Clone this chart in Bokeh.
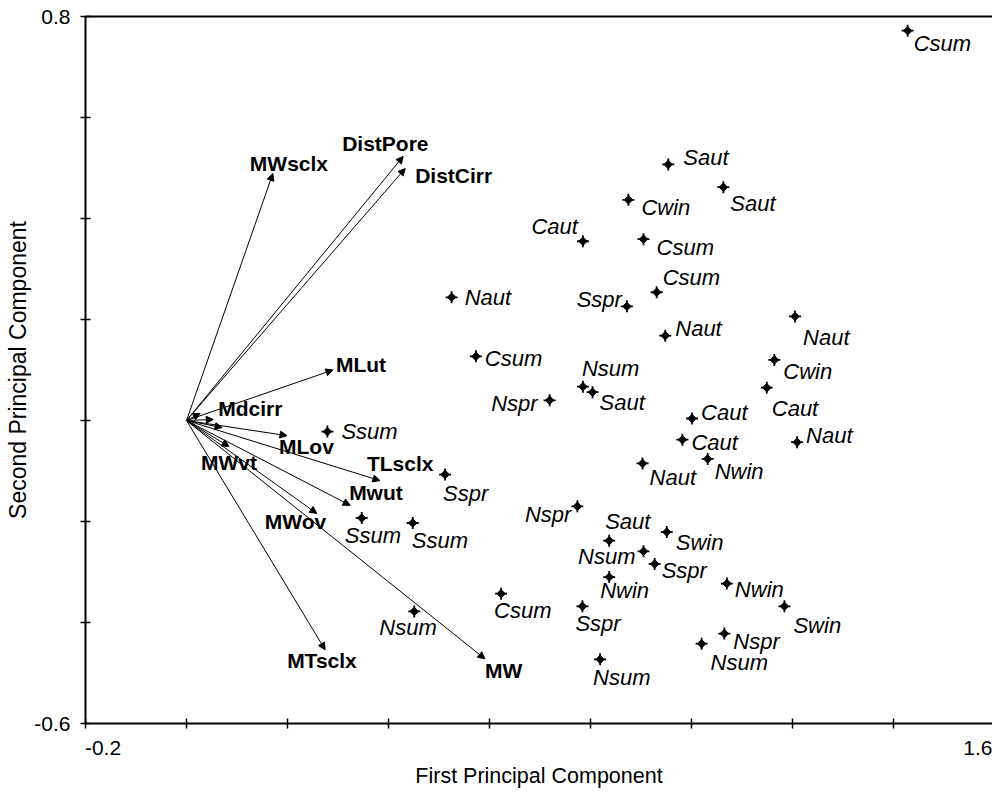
from bokeh.plotting import figure
from bokeh.models import (ColumnDataSource, Arrow, NormalHead, FixedTicker, LinearAxis,
                          CustomJSTickFormatter, Range1d)
from bokeh.core.properties import value
from bokeh.embed import file_html
from bokeh.resources import INLINE

# ---------------- data ----------------
# observation scores (first, second principal component)
obs_labels = ["Csum", "Saut", "Saut", "Cwin", "Caut", "Csum", "Csum", "Sspr", "Naut", "Naut",
              "Naut", "Csum", "Nsum", "Saut", "Nspr", "Cwin", "Caut", "Caut", "Caut", "Nwin",
              "Naut", "Naut", "Nspr", "Saut", "Swin", "Nsum", "Sspr", "Nwin", "Nwin", "Swin",
              "Csum", "Sspr", "Nspr", "Nsum", "Nsum", "Ssum", "Sspr", "Ssum", "Ssum", "Nsum"]
pc1 = [1.428, 0.954, 1.063, 0.875, 0.785, 0.905, 0.931, 0.872, 0.525, 0.948,
       1.205, 0.573, 0.785, 0.804, 0.719, 1.164, 1.149, 1.001, 0.982, 1.032,
       1.209, 0.903, 0.774, 0.837, 0.951, 0.905, 0.927, 0.837, 1.070, 1.184,
       0.623, 0.784, 1.065, 1.020, 0.819, 0.279, 0.512, 0.347, 0.448, 0.451]
pc2 = [0.772, 0.507, 0.462, 0.437, 0.355, 0.359, 0.254, 0.226, 0.244, 0.168,
       0.206, 0.127, 0.067, 0.056, 0.040, 0.120, 0.065, 0.004, -0.038, -0.076,
       -0.043, -0.085, -0.170, -0.238, -0.221, -0.259, -0.284, -0.310, -0.323, -0.368,
       -0.343, -0.368, -0.422, -0.442, -0.473, -0.022, -0.107, -0.193, -0.203, -0.378]

# variable loadings (arrows from the origin)
var_names = ["MWsclx", "DistPore", "DistCirr", "MLut", "Mdcirr", "", "", "MLov", "MWvt",
             "TLsclx", "Mwut", "MWov", "MTsclx", "MW"]
var_pc1 = [0.171, 0.429, 0.433, 0.290, 0.027, 0.053, 0.0705, 0.199, 0.084,
           0.383, 0.324, 0.258, 0.2745, 0.591]
var_pc2 = [0.489, 0.523, 0.499, 0.100, 0.014, 0.002, -0.014, -0.030, -0.0515,
           -0.119, -0.168, -0.184, -0.454, -0.472]

x_ticks = [-0.2, 0.0, 0.2, 0.4, 0.6, 0.8, 1.0, 1.2, 1.4, 1.6]
y_ticks = [-0.6, -0.4, -0.2, 0.0, 0.2, 0.4, 0.6, 0.8]
x_end_labels = ["-0.2", "1.6"]
y_shown = [-0.6, 0.8]

X_START, X_END = -0.2, 1.596   # the right edge of the picture falls just short of 1.6

# ---------------- label placement (screen-pixel offsets, styling only) ----------------
obs_dx = [6, 15, 7, 13, -5, 13, 6, -5, 13, 10,
          8, 9, -1, 7, -12, 9, 5, 9, 9, 7,
          9, 7, -6, -4, 9, -8, 7, -9, 8, 9,
          -7, -7, 9, 9, -7, 14, -2, -17, -1, -35]
obs_dy = [13, -7, 16, 8, -15, 8, -15, -7, 0, -7,
          21, 2, -18, 10, 3, 12, 21, -6, 3, 13,
          -7, 14, 8, -19, 10, 5, 7, 13, 6, 19,
          17, 17, 8, 19, 18, 0, 19, 18, 17, 16]
obs_align = ["left"] * 40
for i in (4, 7, 14, 22, 25):
    obs_align[i] = "right"

var_dx = [-23, -61, 10, 3, 18, 0, 0, -8, -28, -13, -1, -52, -38, 0]
var_dy = [-10, -13, 7, -6, -5, 0, 0, 11, 16, -17, -13, 8, 11, 12]

FONT = "Liberation Sans"

p = figure(width=992, height=796,
           x_range=Range1d(X_START, X_END), y_range=Range1d(-0.6, 0.8),
           output_backend="svg", toolbar_location=None,
           min_border_left=85, min_border_right=0, min_border_top=16, min_border_bottom=73)
p.xgrid.visible = False
p.ygrid.visible = False
p.outline_line_color = None
p.background_fill_color = "white"
p.border_fill_color = "white"

def style_axis(ax):
    ax.axis_line_width = 2
    ax.axis_line_color = "black"
    ax.major_tick_in = 5
    ax.major_tick_out = 5
    ax.major_tick_line_width = 1.5
    ax.major_tick_line_color = "black"
    ax.minor_tick_line_color = None
    ax.major_label_text_font = FONT
    ax.major_label_text_font_size = "21px"
    ax.major_label_text_color = "black"
    ax.axis_label_text_font = FONT
    ax.axis_label_text_font_style = "normal"
    ax.axis_label_text_color = "black"

fmt_code = """
for (const v of shown) { if (Math.abs(tick - v) < 1e-9) return tick.toFixed(1); }
return "";
"""

# bottom axis: line and ticks only
xa = p.xaxis[0]
style_axis(xa)
xa.ticker = FixedTicker(ticks=x_ticks)
xa.formatter = CustomJSTickFormatter(code='return "";')
xa.major_label_text_font_size = "0px"
xa.major_label_standoff = 0

# second bottom axis: end labels (left one starts at its tick, right one ends at the edge)
xl = LinearAxis(ticker=FixedTicker(ticks=[X_START, X_END]),
                formatter=CustomJSTickFormatter(args=dict(lo=X_START, labels=x_end_labels), code="""
const nb = "\\u00a0";
if (Math.abs(tick - lo) < 1e-9) return nb.repeat(6) + labels[0];
return labels[1];
"""))
style_axis(xl)
xl.axis_line_color = None
xl.major_tick_line_color = None
xl.major_tick_in = 0
xl.major_tick_out = 0
xl.major_label_standoff = 7
xl.axis_label = "First Principal Component"
xl.axis_label_text_font_size = "21.5px"
xl.axis_label_standoff = 2
p.add_layout(xl, "below")

ya = p.yaxis[0]
style_axis(ya)
ya.ticker = FixedTicker(ticks=y_ticks)
ya.formatter = CustomJSTickFormatter(args=dict(shown=y_shown), code=fmt_code)
ya.axis_label = "Second Principal Component"
ya.axis_label_text_font_size = "23px"
ya.major_label_standoff = 10
ya.axis_label_standoff = 0

top = LinearAxis(ticker=FixedTicker(ticks=[]), axis_line_width=2, axis_line_color="black",
                 major_tick_line_color=None, minor_tick_line_color=None,
                 major_label_text_font_size="0px")
p.add_layout(top, "above")

# arrows for variables
vsrc = ColumnDataSource(dict(x0=[0.0] * len(var_pc1), y0=[0.0] * len(var_pc2),
                             x1=var_pc1, y1=var_pc2, name=var_names, dx=var_dx, dy=var_dy))
p.add_layout(Arrow(end=NormalHead(size=7, fill_color="black", line_color="black", line_width=1),
                   x_start="x0", y_start="y0", x_end="x1", y_end="y1", source=vsrc,
                   line_color="black", line_width=1))
p.text(x="x1", y="y1", text="name", source=vsrc, x_offset="dx", y_offset="dy",
       text_align="left", text_baseline="middle", text_font=value(FONT),
       text_font_style="bold", text_font_size="21px", text_color="black")

# observation points
osrc = ColumnDataSource(dict(x=pc1, y=pc2, lab=obs_labels, dx=obs_dx, dy=obs_dy, al=obs_align))
p.scatter(x="x", y="y", source=osrc, marker="square", angle=0.785398, size=6,
          fill_color="black", line_color="black")
p.scatter(x="x", y="y", source=osrc, marker="cross", size=12, line_width=1.8,
          line_color="black")
p.text(x="x", y="y", text="lab", source=osrc, x_offset="dx", y_offset="dy",
       text_align="al", text_baseline="middle", text_font=value(FONT),
       text_font_style="italic", text_font_size="22px", text_color="black")

open("out.html", "w").write(file_html(p, INLINE))
